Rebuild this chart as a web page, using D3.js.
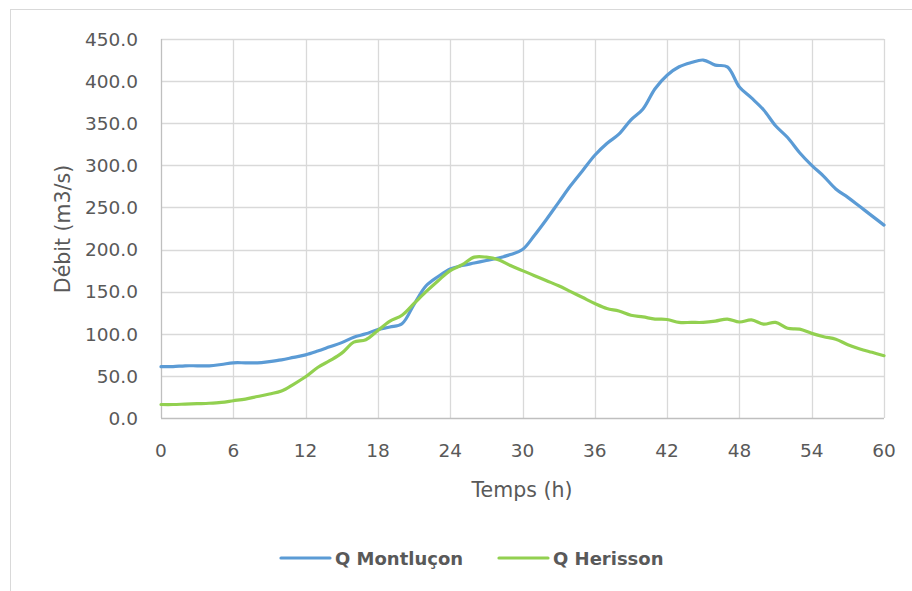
<!DOCTYPE html>
<html>
<head>
<meta charset="utf-8">
<script src="https://cdn.jsdelivr.net/npm/d3@7"></script>
<style>
  html, body { margin: 0; padding: 0; background: #fff; }
  svg { display: block; }
  text { font-family: "DejaVu Sans", sans-serif; fill: #595959; }
</style>
</head>
<body>
<svg id="chart" width="912" height="591"></svg>
<script>
const hours = d3.range(0, 61);
const qMontlucon = [61, 61, 62, 62, 62, 63.5, 65.5, 65.5, 65.5, 67, 69, 72, 75, 79.5, 84.5, 89.5, 96, 100, 105, 108, 112,
  135, 157, 168, 177, 181, 184, 187, 190, 194, 200, 217, 236, 256, 276, 294, 312, 326, 337, 354, 367,
  391, 407, 417, 422, 425, 419, 417, 393, 380, 366, 347, 333, 315, 300, 287, 272, 262, 251, 240, 229];
const qHerisson = [16, 16, 16.5, 17, 17.5, 18.5, 20.5, 22.5, 25.5, 28.5, 32, 40, 49, 60, 68, 77, 90, 93, 104, 115, 122,
  136, 150, 163, 175, 182, 191, 191, 188, 181, 175, 169, 163, 157, 150, 143, 136, 130, 127, 122, 120,
  117.5, 117, 113.5, 113.5, 113.5, 115, 117.5, 114, 116.5, 111.5, 113.5, 106.5, 105.5, 100.5, 96.5, 93.5, 87, 82, 78, 74];
const xTicks = [0, 6, 12, 18, 24, 30, 36, 42, 48, 54, 60];
const yTicks = [0, 50, 100, 150, 200, 250, 300, 350, 400, 450];
const seriesNames = ["Q Montluçon", "Q Herisson"];
const seriesColors = ["#5b9bd5", "#92d050"];
const series = [qMontlucon, qHerisson];

const svg = d3.select("#chart");
const plotLeft = 161, plotRight = 884, plotTop = 39, plotBottom = 418;
const x = d3.scaleLinear().domain([0, 60]).range([plotLeft, plotRight]);
const y = d3.scaleLinear().domain([0, 450]).range([plotBottom, plotTop]);

// outer chart border
svg.append("rect").attr("x", 10.5).attr("y", 9.5).attr("width", 920).attr("height", 600)
  .attr("fill", "none").attr("stroke", "#d9d9d9").attr("stroke-width", 1);

// grid
const grid = svg.append("g");
grid.selectAll("line.h").data(yTicks.filter(d => d > 0)).join("line")
  .attr("x1", plotLeft).attr("x2", plotRight)
  .attr("y1", d => Math.round(y(d)) + 0.5).attr("y2", d => Math.round(y(d)) + 0.5)
  .attr("stroke", "#d9d9d9").attr("stroke-width", 1.3);
grid.selectAll("line.v").data(xTicks).join("line")
  .attr("y1", plotTop).attr("y2", plotBottom)
  .attr("x1", d => Math.round(x(d)) + 0.5).attr("x2", d => Math.round(x(d)) + 0.5)
  .attr("stroke", d => d === 0 ? "#bfbfbf" : "#d9d9d9").attr("stroke-width", 1.3);
// bottom axis line
svg.append("line").attr("x1", plotLeft).attr("x2", plotRight)
  .attr("y1", plotBottom + 0.5).attr("y2", plotBottom + 0.5)
  .attr("stroke", "#bfbfbf").attr("stroke-width", 1.3);

// y tick labels
svg.append("g").selectAll("text").data(yTicks).join("text")
  .attr("x", 138).attr("y", d => y(d) + 6.8)
  .attr("text-anchor", "end").style("font-size", "18.5px")
  .text(d => d.toFixed(1));

// x tick labels
svg.append("g").selectAll("text").data(xTicks).join("text")
  .attr("x", d => x(d)).attr("y", 456.5)
  .attr("text-anchor", "middle").style("font-size", "18.5px")
  .text(d => d);

// axis titles
svg.append("text").attr("x", 522).attr("y", 497)
  .attr("text-anchor", "middle").style("font-size", "20.5px").text("Temps (h)");
svg.append("text").attr("transform", "translate(70,229) rotate(-90)")
  .attr("text-anchor", "middle").style("font-size", "20.5px").text("Débit (m3/s)");

// lines
const line = d3.line().x((d, i) => x(hours[i])).y(d => y(d)).curve(d3.curveCatmullRom.alpha(0.5));
svg.append("g").selectAll("path").data(series).join("path")
  .attr("d", d => line(d))
  .attr("fill", "none")
  .attr("stroke", (d, i) => seriesColors[i])
  .attr("stroke-width", 3.2)
  .attr("stroke-linejoin", "round").attr("stroke-linecap", "round");

// legend
const legendX = [281, 499];
const lg = svg.append("g");
seriesNames.forEach((name, i) => {
  lg.append("line").attr("x1", legendX[i]).attr("x2", legendX[i] + 49)
    .attr("y1", 558).attr("y2", 558)
    .attr("stroke", seriesColors[i]).attr("stroke-width", 3.2).attr("stroke-linecap", "round");
  lg.append("text").attr("x", legendX[i] + 54).attr("y", 564.5)
    .style("font-size", "18px").style("font-weight", "bold").text(name);
});
</script>
</body>
</html>
